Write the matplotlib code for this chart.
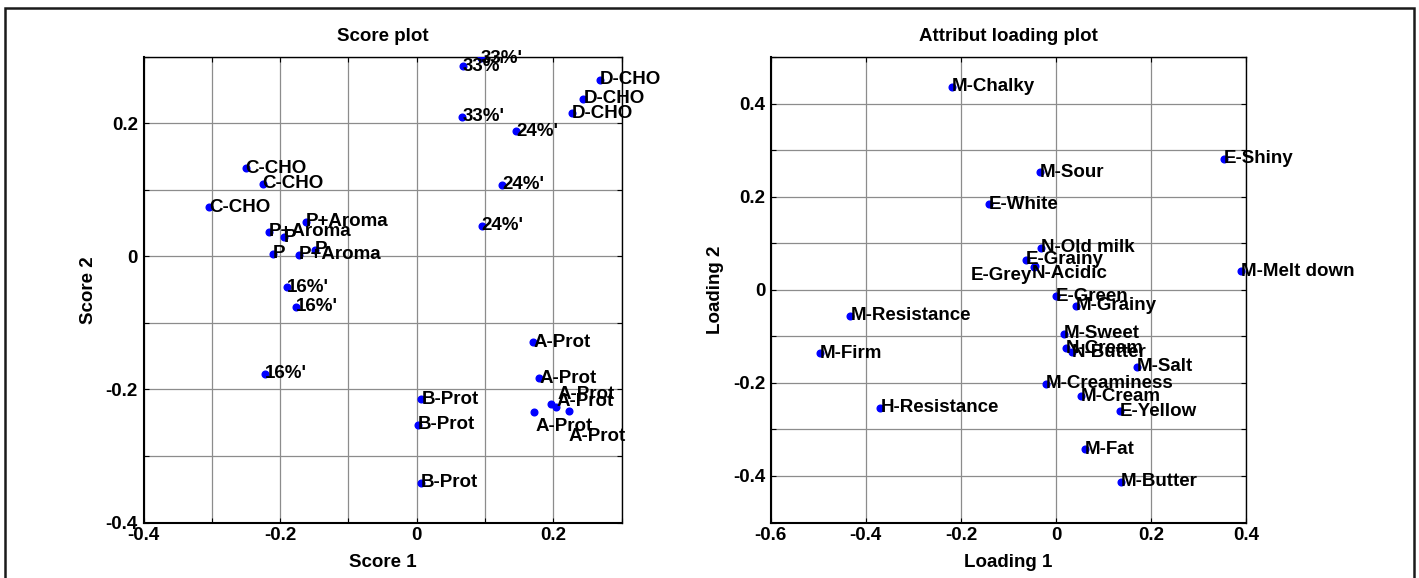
import numpy as np
import matplotlib
matplotlib.use("Agg")
import matplotlib.pyplot as plt
from matplotlib.patches import Rectangle

# ---- score plot data ----
score_labels = ["33%'", "33%'", "33%'",
                "D-CHO", "D-CHO", "D-CHO",
                "24%'", "24%'", "24%'",
                "C-CHO", "C-CHO", "C-CHO",
                "P+Aroma", "P+Aroma", "P+Aroma",
                "P", "P", "P",
                "16%'", "16%'", "16%'",
                "A-Prot", "A-Prot", "A-Prot", "A-Prot", "A-Prot", "A-Prot",
                "B-Prot", "B-Prot", "B-Prot"]
score1 = [0.094, 0.068, 0.067,
          0.268, 0.244, 0.227,
          0.146, 0.1255, 0.095,
          -0.2506, -0.2257, -0.3043,
          -0.162, -0.2164, -0.1724,
          -0.1944, -0.2105, -0.1495,
          -0.1895, -0.1764, -0.2218,
          0.1705, 0.1793, 0.1974, 0.2037, 0.2228, 0.172,
          0.0068, 0.002, 0.006]
score2 = [0.298, 0.286, 0.2105,
          0.2655, 0.2375, 0.2155,
          0.1885, 0.108, 0.046,
          0.133, 0.1095, 0.074,
          0.0525, 0.0375, 0.0025,
          0.029, 0.004, 0.01,
          -0.0465, -0.0755, -0.1765,
          -0.129, -0.183, -0.2215, -0.2265, -0.232, -0.2335,
          -0.2145, -0.253, -0.34]

# ---- loading plot data ----
load_labels = ["M-Chalky", "E-Shiny", "M-Sour", "E-White", "N-Old milk",
               "E-Grainy", "E-Grey", "N-Acidic", "M-Melt down", "E-Green",
               "M-Grainy", "M-Resistance", "M-Sweet", "M-Firm", "N-Cream",
               "N-Butter", "M-Salt", "M-Creaminess", "M-Cream", "H-Resistance",
               "E-Yellow", "M-Fat", "M-Butter"]
load1 = [-0.2183, 0.353, -0.0334, -0.1415, -0.031,
         -0.063, -0.047, -0.0445, 0.390, 0.0,
         0.042, -0.4323, 0.0166, -0.497, 0.021,
         0.0332, 0.1694, -0.021, 0.0524, -0.3694,
         0.1336, 0.0603, 0.137]
load2 = [0.4364, 0.2814, 0.2529, 0.184, 0.0907,
         0.0643, 0.048, 0.050, 0.0393, -0.0136,
         -0.0344, -0.0559, -0.0946, -0.1362, -0.126,
         -0.1347, -0.1655, -0.2022, -0.2287, -0.2532,
         -0.2612, -0.3426, -0.4125]

# label nudges in pixels (dx, dy) for the crowded spots
score_nudge = {23: (5, 2), 24: (2, 13), 25: (0, -26), 26: (1, -15)}
load_nudge = {6: (-2, -8), 7: (-3, -7)}
load_right = {6}

FS = 13.5
plt.rcParams["font.family"] = ["Liberation Sans", "DejaVu Sans"]
plt.rcParams["font.weight"] = "bold"

W, H = 1419, 578
fig = plt.figure(figsize=(W / 100, H / 100), dpi=100)
fig.patch.set_facecolor("white")

# outer frame
fig.add_artist(Rectangle((5 / W, -0.05), 1409 / W, 1.05 - 7.5 / H,
                         transform=fig.transFigure, fill=False,
                         edgecolor="#1a1a1a", linewidth=1.8))


def style_axes(ax, xlim, ylim, xticks, xlab, yticks, ylab):
    ax.set_xlim(xlim)
    ax.set_ylim(ylim)
    ax.set_xticks(xticks)
    ax.set_xticklabels(xlab)
    ax.set_yticks(yticks)
    ax.set_yticklabels(ylab)
    ax.grid(True, color="#8c8c8c", linewidth=0.9)
    ax.set_axisbelow(True)
    ax.tick_params(direction="in", length=3.6, width=0.8, top=True, right=True,
                   labelsize=FS, colors="black")
    ax.tick_params(axis="x", pad=3)
    ax.tick_params(axis="y", pad=4)
    for lab in ax.get_xticklabels() + ax.get_yticklabels():
        lab.set_fontweight("bold")
    for side in ["left", "bottom"]:
        ax.spines[side].set_linewidth(1.5)
    for side in ["top", "right"]:
        ax.spines[side].set_linewidth(1.0)


def fmt(v):
    if abs(v) < 1e-9:
        return "0"
    return f"{v:.1f}"


def draw_points(ax, xs, ys, labels, nudge, right=()):
    ax.plot(xs, ys, "o", color="#0000ff", markersize=4.8, zorder=3)
    for i, (x, y, t) in enumerate(zip(xs, ys, labels)):
        dx, dy = nudge.get(i, (0, 0))
        ax.annotate(t, (x, y), xytext=(dx, dy), textcoords="offset pixels",
                    ha="right" if i in right else "left", va="center",
                    fontsize=FS, fontweight="bold", zorder=4,
                    annotation_clip=False)


# ---- left: score plot ----
ax1 = fig.add_axes([143.5 / W, (H - 522.5) / H, 478 / W, 465.5 / H])
gx = np.round(np.arange(-0.4, 0.31, 0.1), 2)
gy = np.round(np.arange(-0.4, 0.31, 0.1), 2)
style_axes(ax1, (-0.4, 0.3), (-0.4, 0.3),
           gx, [fmt(v) if i % 2 == 0 else "" for i, v in enumerate(gx)],
           gy, [fmt(v) if i % 2 == 0 else "" for i, v in enumerate(gy)])
draw_points(ax1, score1, score2, score_labels, score_nudge)

# ---- right: loading plot ----
ax2 = fig.add_axes([770.7 / W, (H - 522.5) / H, 475.5 / W, 465.5 / H])
lx = np.round(np.arange(-0.6, 0.41, 0.2), 2)
ly = np.round(np.arange(-0.5, 0.51, 0.1), 2)
style_axes(ax2, (-0.6, 0.4), (-0.5, 0.5),
           lx, [fmt(v) for v in lx],
           ly, [fmt(v) if i % 2 == 1 else "" for i, v in enumerate(ly)])
draw_points(ax2, load1, load2, load_labels, load_nudge, load_right)

for ax, title, xl, yl in [(ax1, "Score plot", "Score 1", "Score 2"),
                          (ax2, "Attribut loading plot", "Loading 1", "Loading 2")]:
    h = 465.5
    w = ax.get_position().width * W
    ax.text(0.5, 1 + 20.6 / h, title, transform=ax.transAxes, ha="center",
            va="center", fontsize=FS, fontweight="bold")
    ax.text(0.5, -40.2 / h, xl, transform=ax.transAxes, ha="center",
            va="center", fontsize=FS, fontweight="bold")
    ax.text(-55 / w, 0.5, yl, transform=ax.transAxes, ha="center",
            va="center", rotation=90, fontsize=FS, fontweight="bold")

fig.savefig("out.png", dpi=100)
